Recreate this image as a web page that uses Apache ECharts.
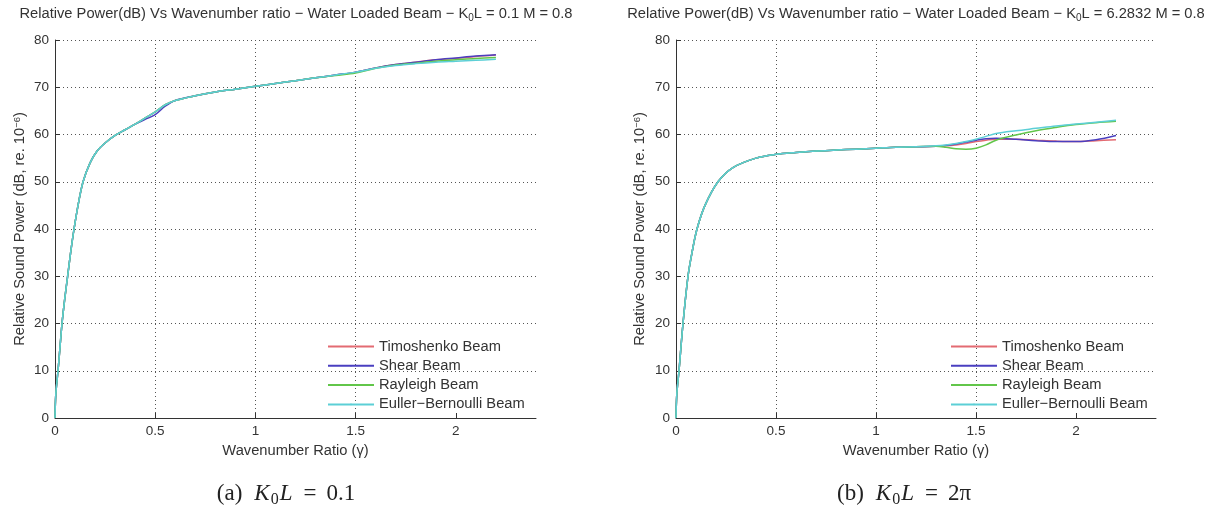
<!DOCTYPE html>
<html>
<head>
<meta charset="utf-8">
<title>Relative Sound Power vs Wavenumber Ratio</title>
<script src="https://cdn.jsdelivr.net/npm/echarts@6/dist/echarts.min.js"></script>
<style>
  html, body { margin: 0; padding: 0; background: #fff; }
  #chart { width: 1213px; height: 519px; }
</style>
</head>
<body>
<div id="chart"></div>
<script>
// legend names and colours, drawn in this order (cyan ends up on top)
const beamNames = ['Timoshenko Beam', 'Shear Beam', 'Rayleigh Beam', 'Euller\u2212Bernoulli Beam'];
const beamColors = ['#e36b72', '#4a3fc0', '#62c64a', '#5ccfd6'];

const xTicks = [0, 0.5, 1, 1.5, 2];

// (a) K0L = 0.1
const xA = [0, 0.004, 0.015, 0.025, 0.035, 0.048, 0.063, 0.078, 0.095, 0.115, 0.14, 0.175, 0.21, 0.25,
  0.3, 0.35, 0.4, 0.45, 0.5, 0.55, 0.6, 0.7, 0.8, 0.9, 1.0, 1.1, 1.2, 1.3, 1.4, 1.5, 1.6, 1.7, 1.8,
  1.9, 2.0, 2.1, 2.2];
const timoA = [0, 5, 10, 15, 20, 25, 30, 35, 40, 45, 50, 54, 56.5, 58.2, 59.8, 61.0, 62.2, 63.5, 64.8,
  66.3, 67.2, 68.2, 69.0, 69.6, 70.2, 70.8, 71.4, 72.0, 72.6, 73.2, 74.1, 74.8, 75.3, 75.8, 76.1, 76.5, 76.8];
const shearA = [0, 5, 10, 15, 20, 25, 30, 35, 40, 45, 50, 54, 56.5, 58.2, 59.8, 61.0, 62.2, 63.2, 64.2,
  66.0, 67.2, 68.2, 69.0, 69.6, 70.2, 70.8, 71.4, 72.0, 72.6, 73.2, 74.1, 74.8, 75.3, 75.8, 76.2, 76.6, 76.9];
const rayA = [0, 5, 10, 15, 20, 25, 30, 35, 40, 45, 50, 54, 56.5, 58.2, 59.8, 61.0, 62.2, 63.5, 64.8,
  66.3, 67.2, 68.2, 69.0, 69.6, 70.2, 70.8, 71.4, 72.0, 72.5, 73.0, 74.0, 74.7, 75.1, 75.5, 75.8, 76.1, 76.3];
const eulerA = [0, 5, 10, 15, 20, 25, 30, 35, 40, 45, 50, 54, 56.5, 58.2, 59.8, 61.0, 62.2, 63.5, 64.8,
  66.3, 67.2, 68.2, 69.0, 69.6, 70.2, 70.8, 71.4, 72.0, 72.6, 73.2, 74.0, 74.6, 75.0, 75.3, 75.5, 75.7, 75.9];

// (b) K0L = 2π
const xB = [0, 0.004, 0.015, 0.035, 0.06, 0.08, 0.105, 0.145, 0.21, 0.285, 0.4, 0.5, 0.6, 0.7, 0.8, 0.9,
  1.0, 1.1, 1.2, 1.3, 1.35, 1.4, 1.45, 1.5, 1.55, 1.6, 1.7, 1.8, 1.9, 2.0, 2.1, 2.2];
const timoB = [0, 5, 10, 20, 30, 35, 40, 45, 50, 53, 55, 55.8, 56.2, 56.5, 56.7, 56.9, 57.1, 57.3, 57.4,
  57.5, 57.6, 57.8, 58.1, 58.5, 58.8, 59.0, 59.0, 58.8, 58.6, 58.5, 58.7, 58.9];
const shearB = [0, 5, 10, 20, 30, 35, 40, 45, 50, 53, 55, 55.8, 56.2, 56.5, 56.7, 56.9, 57.1, 57.3, 57.4,
  57.5, 57.7, 58.0, 58.4, 58.8, 59.1, 59.2, 59.0, 58.7, 58.5, 58.5, 58.9, 59.8];
const rayB = [0, 5, 10, 20, 30, 35, 40, 45, 50, 53, 55, 55.8, 56.2, 56.5, 56.7, 56.9, 57.1, 57.3, 57.4,
  57.5, 57.3, 57.0, 56.9, 57.1, 57.8, 58.8, 59.9, 60.8, 61.5, 62.1, 62.5, 62.8];
const eulerB = [0, 5, 10, 20, 30, 35, 40, 45, 50, 53, 55, 55.8, 56.2, 56.5, 56.7, 56.9, 57.1, 57.3, 57.4,
  57.6, 57.8, 58.1, 58.5, 59.0, 59.6, 60.2, 60.8, 61.3, 61.8, 62.2, 62.6, 63.0];

const sans = 'Liberation Sans, Arial, sans-serif';
const serif = 'Liberation Serif, Times New Roman, serif';
const textColor = '#333';

const chart = echarts.init(document.getElementById('chart'));

const pairs = (xs, ys) => xs.map((x, i) => [x, ys[i]]);

const makeSeries = (idx, xs, groups) =>
  groups.map((ys, i) => ({
    name: beamNames[i],
    type: 'line',
    xAxisIndex: idx,
    yAxisIndex: idx,
    data: pairs(xs, ys),
    symbol: 'none',
    smooth: 0.35,
    color: beamColors[i],
    lineStyle: { width: 1.5, color: beamColors[i] },
    z: 2 + i,
  }));

const makeX = (idx) => ({
  type: 'value',
  gridIndex: idx,
  min: 0,
  max: 2.4,
  interval: 0.5,
  name: 'Wavenumber Ratio (\u03b3)',
  nameLocation: 'middle',
  nameGap: 25,
  nameTextStyle: { fontSize: 14.7, fontFamily: sans, color: textColor },
  axisLine: { lineStyle: { color: '#333', width: 1 } },
  axisTick: { inside: true, length: 5, customValues: xTicks, lineStyle: { color: '#333' } },
  axisLabel: { fontSize: 13.5, fontFamily: sans, color: textColor, margin: 6, showMaxLabel: false },
  splitLine: { show: true, showMaxLine: false, lineStyle: { color: '#555', type: [1, 3], width: 1 } },
});

const makeY = (idx, gap) => ({
  type: 'value',
  gridIndex: idx,
  min: 0,
  max: 80,
  interval: 10,
  name: 'Relative Sound Power (dB, re. 10{sup|\u22126})',
  nameLocation: 'middle',
  nameRotate: 90,
  nameGap: gap,
  nameTextStyle: {
    fontSize: 14.7, fontFamily: sans, color: textColor,
    rich: { sup: { fontSize: 9.5, fontFamily: sans, color: textColor, verticalAlign: 'top', lineHeight: 9 } },
  },
  axisLine: { show: true, lineStyle: { color: '#333', width: 1 } },
  axisTick: { show: true, inside: true, length: 5, lineStyle: { color: '#333' } },
  axisLabel: { fontSize: 13.5, fontFamily: sans, color: textColor, margin: 6 },
  splitLine: { show: true, lineStyle: { color: '#555', type: [1, 3], width: 1 } },
});

// tiny itemHeight keeps the default legend marker hidden inside the line
const makeLegend = (left) => ({
  orient: 'vertical',
  left: left,
  top: 339,
  padding: 0,
  itemWidth: 46,
  itemHeight: 2,
  itemGap: 4.3,
  data: beamNames,
  selectedMode: false,
  textStyle: { fontSize: 14.7, fontFamily: sans, color: textColor, lineHeight: 14 },
});

const titleRich = {
  n: { fontSize: 14.7, fontFamily: sans, fill: textColor, lineHeight: 18 },
  s: { fontSize: 10, fontFamily: sans, fill: textColor, lineHeight: 10, verticalAlign: 'bottom' },
};
const capRich = {
  n: { fontSize: 23, fontFamily: serif, fill: '#222', lineHeight: 27 },
  k: { fontSize: 23, fontFamily: serif, fontStyle: 'italic', fill: '#222', lineHeight: 27, padding: [0, 1, 0, 12] },
  i: { fontSize: 23, fontFamily: serif, fontStyle: 'italic', fill: '#222', lineHeight: 27, padding: [0, 0, 0, 1] },
  s: { fontSize: 16, fontFamily: serif, fill: '#222', lineHeight: 16, verticalAlign: 'bottom' },
  e: { fontSize: 23, fontFamily: serif, fill: '#222', lineHeight: 27, padding: [0, 10, 0, 11] },
};

const option = {
  animation: false,
  backgroundColor: '#fff',
  grid: [
    { left: 55, top: 40, width: 481, height: 378 },
    { left: 676, top: 40, width: 480, height: 378 },
  ],
  xAxis: [makeX(0), makeX(1)],
  yAxis: [makeY(0, 28), makeY(1, 29)],
  legend: [makeLegend(327), makeLegend(950)],
  series: [
    ...makeSeries(0, xA, [timoA, shearA, rayA, eulerA]),
    ...makeSeries(1, xB, [timoB, shearB, rayB, eulerB]),
  ],
  graphic: [
    {
      type: 'text', x: 296, y: 14,
      style: {
        text: '{n|Relative Power(dB) Vs Wavenumber ratio \u2212 Water Loaded Beam \u2212 K}{s|0}{n|L = 0.1 M = 0.8}',
        rich: titleRich, textAlign: 'center', textVerticalAlign: 'middle',
      },
    },
    {
      type: 'text', x: 916, y: 14,
      style: {
        text: '{n|Relative Power(dB) Vs Wavenumber ratio \u2212 Water Loaded Beam \u2212 K}{s|0}{n|L = 6.2832 M = 0.8}',
        rich: titleRich, textAlign: 'center', textVerticalAlign: 'middle',
      },
    },
    {
      type: 'text', x: 286, y: 494,
      style: {
        text: '{n|(a)}{k|K}{s|0}{i|L}{e|=}{n|0.1}',
        rich: capRich, textAlign: 'center', textVerticalAlign: 'middle',
      },
    },
    {
      type: 'text', x: 904, y: 494,
      style: {
        text: '{n|(b)}{k|K}{s|0}{i|L}{e|=}{n|2\u03c0}',
        rich: capRich, textAlign: 'center', textVerticalAlign: 'middle',
      },
    },
  ],
};

chart.setOption(option);
</script>
</body>
</html>
